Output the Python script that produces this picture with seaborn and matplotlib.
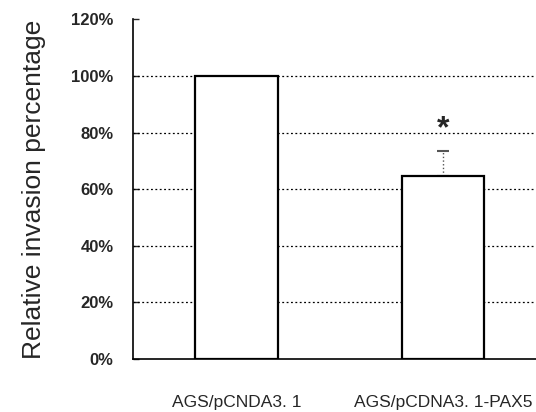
import matplotlib
matplotlib.use("Agg")
import matplotlib.pyplot as plt
import seaborn as sns
import pandas as pd

groups = ["AGS/pCNDA3. 1", "AGS/pCDNA3. 1-PAX5"]
invasion = [100, 64.5]
err_up = [0, 9]
yticks = [0, 20, 40, 60, 80, 100, 120]

df = pd.DataFrame({"group": groups, "invasion": invasion})

sns.set_style("white")
plt.rcParams["font.family"] = ["Liberation Sans", "DejaVu Sans"]

fig = plt.figure(figsize=(5.36, 4.12), dpi=100)
ax = fig.add_axes([0.248, 0.129, 0.752, 0.824])

sns.barplot(data=df, x="group", y="invasion", color="white", edgecolor="black",
            linewidth=1.6, width=0.4, errorbar=None, ax=ax, zorder=3)

# only the upper error bar on the second group
eb = ax.errorbar([1], [invasion[1]], yerr=[[0], [err_up[1]]], fmt="none",
                 ecolor="#555555", elinewidth=1, capsize=4, capthick=1.5, zorder=2)
eb[2][0].set_linestyle(":")

ax.text(1, invasion[1] + err_up[1] + 7.5, "*", ha="center", va="center",
        fontsize=23, fontweight="bold")

ax.set_ylim(0, 120)
ax.set_xlim(-0.5, 1.45)
ax.set_yticks(yticks)
ax.set_yticklabels([f"{v}%" for v in yticks], fontsize=12, fontweight="bold")
for v in yticks[1:-1]:
    ax.axhline(v, color="black", linestyle=(0, (1.5, 2)), linewidth=0.9, zorder=1)

ax.tick_params(axis="y", direction="in", length=4, width=1, pad=14, left=True)
ax.tick_params(axis="x", length=0, pad=26, labelsize=12.5)
ax.set_xlabel("")
ax.set_ylabel("Relative invasion percentage", fontsize=19, labelpad=18)

for s in ["top", "right"]:
    ax.spines[s].set_visible(False)
for s in ["left", "bottom"]:
    ax.spines[s].set_color("black")
    ax.spines[s].set_linewidth(1.2)

fig.savefig("out.png", dpi=100)
